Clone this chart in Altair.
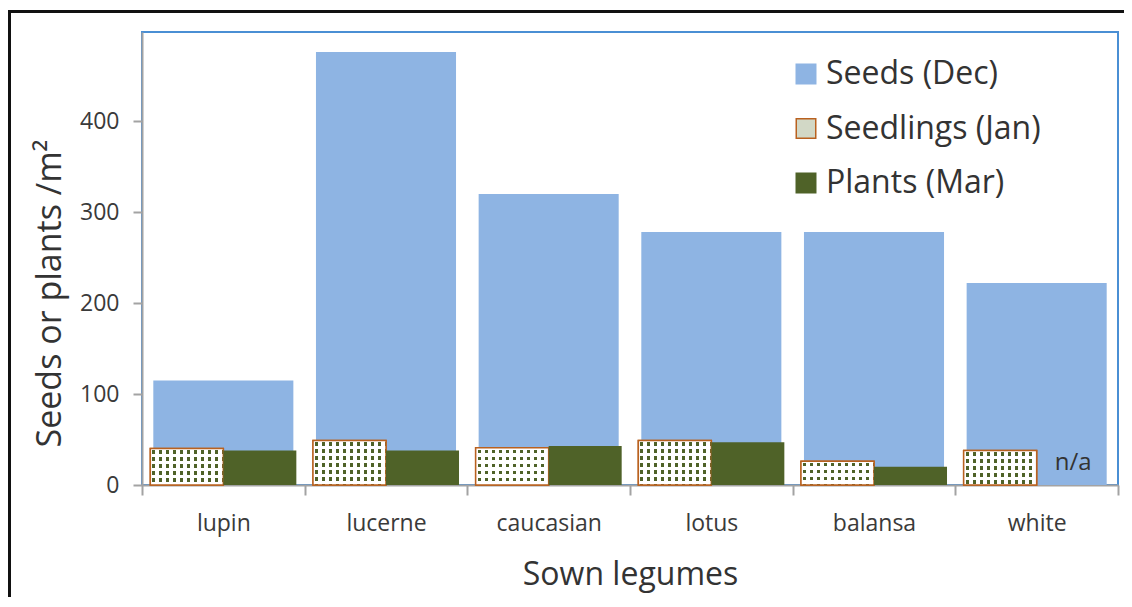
import altair as alt
import pandas as pd

# ---------------- data ----------------
legumes = ["lupin", "lucerne", "caucasian", "lotus", "balansa", "white"]
seeds_dec = [115, 476, 320, 278, 278, 222]
seedlings_jan = [40, 49, 41, 49, 26, 38]
plants_mar = [38, 38, 43, 47, 20, None]
series_names = ["Seeds (Dec)", "Seedlings (Jan)", "Plants (Mar)"]
y_ticks = [0, 100, 200, 300, 400]
na_label = "n/a"

# ---------------- layout / style ----------------
W, H = 976, 453
Y_MAX = 498
XOFF_PAD = 0.114
FONT = "Open Sans"
BLUE = "#8eb4e3"
GREEN = "#4f6228"
BROWN = "#b9611f"
PALE = "#d2d8c6"
AXIS_GREY = "#a3a3a3"
FRAME_BLUE = "#4a8fd4"
TXT = "#333333"

seeds_df = pd.DataFrame({"legume": legumes, "series": series_names[0], "value": seeds_dec})
seedl_df = pd.DataFrame({"legume": legumes, "series": series_names[1], "value": seedlings_jan})
plants_df = pd.DataFrame({"legume": legumes, "series": series_names[2], "value": plants_mar})
na_df = pd.DataFrame({
    "legume": [lg for lg, v in zip(legumes, plants_mar) if v is None],
    "series": series_names[2],
    "value": 0,
    "label": na_label,
})

x_scale = alt.Scale(domain=legumes, paddingInner=0, paddingOuter=0)
y_scale = alt.Scale(domain=[0, Y_MAX], nice=False)
xoff_scale = alt.Scale(domain=series_names[1:], paddingInner=0, paddingOuter=XOFF_PAD)
color_scale = alt.Scale(domain=series_names, range=[BLUE, PALE, GREEN])
stroke_scale = alt.Scale(domain=series_names, range=[BLUE, BROWN, GREEN])

x_axis = alt.Axis(
    title="Sown legumes", labelAngle=0, tickBand="extent",
    labelFont=FONT, labelFontSize=23, labelColor="#3a3a3a", labelPadding=17,
    tickColor=AXIS_GREY, tickSize=10, tickWidth=2,
    domainColor=AXIS_GREY, domainWidth=2,
    titleFont=FONT, titleFontSize=32, titleFontWeight="normal", titleColor=TXT,
    titleBaseline="alphabetic", titleY=99,
)
y_axis = alt.Axis(
    title="Seeds  or plants /m\u00b2", values=y_ticks, grid=False,
    labelFont=FONT, labelFontSize=23, labelColor="#3a3a3a", labelPadding=14,
    tickColor=AXIS_GREY, tickSize=9, tickWidth=2,
    domainColor=AXIS_GREY, domainWidth=2,
    titleFont=FONT, titleFontSize=34, titleFontWeight="normal", titleColor=TXT,
    titleAngle=270, titleBaseline="alphabetic", titleAlign="center",
    titleX=-82, titleY=261,
)
legend = alt.Legend(
    title=None, orient="none", legendX=648, legendY=26,
    symbolType="square", symbolSize=380, symbolStrokeWidth=1.5,
    labelFont=FONT, labelFontSize=32, labelColor=TXT, labelOffset=4,
    rowPadding=22.5, labelLimit=400,
)

x_enc = alt.X("legume:N", scale=x_scale, axis=x_axis, sort=legumes)
y_enc = alt.Y("value:Q", scale=y_scale, axis=y_axis)
xo_enc = alt.XOffset("series:N", scale=xoff_scale)
c_enc = alt.Color("series:N", scale=color_scale, legend=legend)
s_enc = alt.Stroke("series:N", scale=stroke_scale, legend=legend)

# ---------- dotted texture for the seedling bars (two striped gradients) ----------
step = W / len(legumes)
half_band = step / (2 + 2 * XOFF_PAD)
PERIOD, DOT = 7.0, 3.3


def stripe_stops(length_px, on_color, off_color):
    stops = [{"offset": 0, "color": off_color}]
    k = 0
    while True:
        a = (k * PERIOD + (PERIOD - DOT) / 2) / length_px
        if a >= 1:
            break
        b = min(a + DOT / length_px, 1)
        stops += [{"offset": a, "color": off_color}, {"offset": a, "color": on_color},
                  {"offset": b, "color": on_color}, {"offset": b, "color": off_color}]
        k += 1
    stops.append({"offset": 1, "color": off_color})
    return stops


px_per_unit = H / Y_MAX
h_conditions = []
for lg, v in zip(legumes, seedlings_jan):
    grad = {"gradient": "linear", "x1": 0, "y1": 0, "x2": 0, "y2": 1,
            "stops": stripe_stops(v * px_per_unit, GREEN, "#ffffff")}
    h_conditions.append({"test": f"datum.legume === '{lg}'", "value": grad})

v_grad = {"gradient": "linear", "x1": 0, "y1": 0, "x2": 1, "y2": 0,
          "stops": stripe_stops(half_band, "rgba(255,255,255,0)", "#ffffff")}

# ---------------- layers ----------------
frame = alt.Chart(pd.DataFrame({"k": [0]})).mark_rect(
    filled=False, stroke="#111111", strokeWidth=3
).encode(
    x=alt.value(-132.5), x2=alt.value(W + 60),
    y=alt.value(-20.5), y2=alt.value(H + 200),
)

seeds = alt.Chart(seeds_df).mark_bar(width=alt.RelativeBandSize(0.861)).encode(
    x=x_enc, y=y_enc, color=c_enc
)

seedl_base = alt.Chart(seedl_df).mark_bar(strokeWidth=1.5).encode(
    x=x_enc, xOffset=xo_enc, y=y_enc, color=c_enc, stroke=s_enc
)
seedl_rows = alt.Chart(seedl_df).mark_bar().encode(
    x=x_enc, xOffset=xo_enc, y=y_enc,
    fill=alt.FillValue(value="#ffffff", condition=h_conditions),
)
seedl_cols = alt.Chart(seedl_df).mark_bar(
    fill=v_grad, stroke=BROWN, strokeWidth=1.5
).encode(x=x_enc, xOffset=xo_enc, y=y_enc)

plants = alt.Chart(plants_df).mark_bar().encode(
    x=x_enc, xOffset=xo_enc, y=y_enc, color=c_enc
)

na_text = alt.Chart(na_df).mark_text(
    font=FONT, fontSize=24, color=TXT, baseline="alphabetic", dy=-15
).encode(x=x_enc, xOffset=xo_enc, y=y_enc, text="label:N")

chart = alt.layer(
    frame, seeds, seedl_base, seedl_rows, seedl_cols, plants, na_text
).properties(
    width=W, height=H, background="white",
    autosize=alt.AutoSizeParams(type="none"),
    padding={"left": 134, "top": 24, "right": 6, "bottom": 112},
).configure_view(
    stroke=FRAME_BLUE, strokeWidth=2
)

chart.save("out.html", embed_options={"renderer": "svg", "actions": False})
